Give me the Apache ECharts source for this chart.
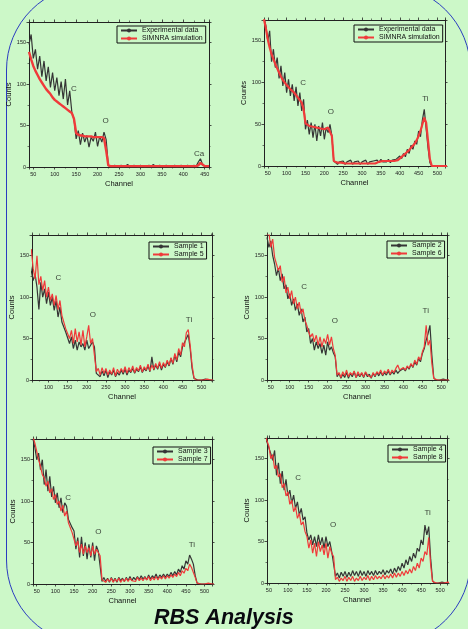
<!DOCTYPE html>
<html>
<head>
<meta charset="utf-8">
<script src="https://cdn.jsdelivr.net/npm/echarts@6/dist/echarts.min.js"></script>
<style>
html, body { margin: 0; padding: 0; background: #ccf8c8; }
#chart { width: 468px; height: 629px; }
</style>
</head>
<body>
<div id="chart"></div>
<script>
// channel grid shared by every spectrum (step 5)
const CH = [40,45,50,55,60,65,70,75,80,85, 90,95,100,105,110,115,120,125,130,135,
  140,145,150,155,160,165,170,175,180,185, 190,195,200,205,210,215,220,225,230,235,
  240,245,250,255,260,265,270,275,280,285, 290,295,300,305,310,315,320,325,330,335,
  340,345,350,355,360,365,370,375,380,385, 390,395,400,405,410,415,420,425,430,435,
  440,445,450,455,460,465,470,475,480,485, 490,495,500,505,510,515,520,525,530];

// panel 1 : Experimental data / SIMNRA simulation (to channel 460)
const EXP1 = [148,160,131,142,118,134,109,128,104,121, 96,114,92,108,86,103,82,106,75,92,
  66,58,34,44,27,41,30,38,24,36, 31,42,25,37,30,42,33,2,1,0,
  2,0,1,2,0,1,3,1,0,2, 1,0,2,1,0,1,2,0,3,1,
  0,2,1,0,2,1,0,1,2,0, 1,2,0,1,2,1,0,2,1,6,
  10,3,1,0,1];
const SIM1 = [139,130,122,116,111,106,102,98,94,91, 88,84,81,79,77,75,73,71,69,67,
  65,58,41,39,38,38,37,37,37,37, 36,36,36,36,36,35,20,2,1,1,
  1,1,1,1,1,1,1,1,1,1, 1,1,1,1,1,1,1,1,1,1,
  1,1,1,1,1,1,1,1,1,1, 1,1,1,1,1,1,1,1,1,2,
  5,3,1,1,1];

// panel 2
const EXP2 = [178,168,150,162,125,140,118,130,105,120, 96,112,88,104,84,98,78,95,72,88,
  66,80,44,55,38,52,34,50,30,48, 36,52,32,46,40,50,36,6,4,2,
  5,3,6,2,5,3,7,2,5,3, 6,2,5,3,7,2,5,3,6,4,
  7,4,8,5,7,5,8,4,7,5, 8,6,12,9,15,11,20,15,25,20,
  30,26,42,35,55,68,45,22,4,0, 0,0,1,0,0,0,0,0,0];
const SIM2 = [176,165,152,142,134,128,122,117,112,107, 103,100,97,95,92,90,88,85,82,79,
  76,68,51,49,48,48,47,47,46,45, 45,44,44,44,46,48,36,6,4,4,
  4,4,4,3,3,3,3,3,3,3, 3,3,3,3,3,3,3,3,3,3,
  4,5,6,6,6,6,6,6,6,6, 6,7,8,11,13,15,17,19,22,24,
  27,31,36,42,50,58,52,30,8,0, 0,0,0,0,0,0,0,0,0];

// panel 3 : Sample 1 / Sample 5
const S1 = [150,140,145,132,120,128,112,85,118,100, 110,92,106,90,100,84,96,76,88,70,
  72,58,56,44,52,38,48,36,46,40, 44,36,48,38,42,46,40,8,10,4,
  11,5,12,3,10,6,12,4,9,6, 12,7,13,6,12,9,14,8,13,10,
  16,9,14,11,17,10,28,12,18,13, 20,12,19,15,22,17,26,19,30,22,
  34,28,40,38,50,55,38,14,2,0, 0,0,0,0,1,0,0,0,0];
const S5 = [165,160,150,158,135,122,150,115,125,108, 120,100,112,96,104,90,102,85,96,78,
  80,62,64,50,60,44,62,46,58,42, 60,40,52,66,44,50,30,10,14,6,
  15,8,14,6,12,7,15,5,13,8, 14,9,16,8,15,10,17,9,15,11,
  18,10,16,12,19,11,18,13,20,14, 22,14,21,16,24,18,27,20,32,24,
  38,30,45,40,57,61,42,18,3,0, 0,0,1,0,0,1,0,0,0];

// panel 4 : Sample 2 / Sample 6
const S2 = [172,160,168,150,140,126,135,120,128,110, 115,98,104,90,98,84,92,78,86,70,
  76,58,62,44,50,36,46,38,44,32, 42,30,46,36,40,33,28,4,8,2,
  7,3,9,2,8,4,10,3,7,4, 8,3,9,4,7,2,8,4,9,5,
  10,5,9,6,11,6,10,7,12,8, 11,9,14,11,16,13,19,15,22,18,
  26,22,32,38,48,56,66,30,3,0, 0,0,0,1,0,0,0,0,0];
const S6 = [175,178,160,170,148,140,132,138,118,125, 105,112,98,108,92,100,86,94,80,86,
  72,66,58,52,56,46,54,42,52,40, 50,44,55,42,52,38,30,6,9,3,
  10,5,12,4,9,6,11,3,10,5, 9,4,10,6,8,3,9,5,10,7,
  12,6,11,8,13,7,12,9,14,18, 12,10,15,12,17,14,20,16,24,19,
  28,24,34,40,66,42,48,20,2,0, 0,1,0,0,0,1,0,0,0];

// panel 5 : Sample 3 / Sample 7
const S3 = [175,165,150,158,138,150,120,138,112,130, 105,118,98,110,92,104,86,98,94,78,
  80,68,64,42,56,32,57,34,50,30, 48,32,50,28,46,40,42,3,8,3,
  7,2,8,3,7,2,8,4,7,3, 8,4,9,4,8,5,9,5,10,6,
  9,5,11,6,10,7,12,6,11,8, 12,8,12,9,14,10,15,11,18,14,
  22,18,28,24,35,30,24,10,1,0, 0,0,0,0,0,1,0,0,0];
const S7 = [178,170,160,150,142,132,128,118,124,110, 115,102,108,96,100,88,95,82,88,74,
  74,62,60,46,52,38,48,36,46,38, 44,34,46,36,42,38,34,5,7,2,
  6,3,7,2,6,3,7,2,6,3, 7,3,7,4,6,3,8,4,7,4,
  8,5,9,4,8,5,9,5,9,6, 10,6,10,7,11,8,12,9,14,10,
  16,13,19,16,24,20,18,8,1,0, 0,0,0,0,1,0,0,0,0];

// panel 6 : Sample 4 / Sample 8
const S4 = [175,170,172,156,148,160,130,145,120,135, 112,125,105,112,96,106,90,98,82,90,
  76,80,60,52,58,46,56,44,58,46, 55,42,56,44,50,38,36,8,12,6,
  13,8,14,7,13,8,15,9,14,8, 15,9,14,8,15,10,14,9,15,10,
  14,11,16,10,15,12,17,11,18,13, 20,15,24,18,28,22,32,26,36,30,
  42,38,52,46,70,58,68,30,3,0, 0,0,0,1,0,0,0,0,0];
const S8 = [178,176,165,150,155,138,142,128,132,115, 120,105,110,95,100,86,92,78,84,70,
  74,62,56,42,52,36,48,32,50,38, 46,34,48,30,44,36,32,4,7,2,
  6,3,8,2,7,3,8,2,6,3, 8,3,7,4,9,3,8,4,9,5,
  8,5,10,5,9,6,11,6,12,7, 12,8,14,9,15,11,17,12,20,15,
  24,18,30,26,38,34,55,22,2,0, 0,1,0,0,0,0,1,0,0];

// peak annotations: [text, channel, counts]
const PEAKS1 = [['C', 145, 94], ['O', 219, 56], ['Ca', 437, 16]];
const PEAKS2 = [['C', 144, 100], ['O', 217, 65], ['Ti', 468, 81]];
const PEAKS3 = [['C', 126, 123], ['O', 216, 79], ['Ti', 467, 73]];
const PEAKS4 = [['C', 138, 112], ['O', 219, 72], ['Ti', 459, 84]];
const PEAKS5 = [['C', 134, 104], ['O', 215, 63], ['Ti', 466, 47]];
const PEAKS6 = [['C', 127, 127], ['O', 219, 70], ['Ti', 467, 85]];

const FONT = 'Liberation Sans, Arial, sans-serif';
const BLACK = '#353535';
const RED = '#f03a3a';

const panels = [
  { grid: {left: 29, top: 22, width: 180, height: 145}, xr: [40, 460],
    names: ['Experimental data', 'SIMNRA simulation'], data: [EXP1, SIM1], widths: [1.2, 2.4],
    legend: {left: 117, top: 26}, peaks: PEAKS1 },
  { grid: {left: 264, top: 20, width: 181, height: 146}, xr: [40, 520],
    names: ['Experimental data', 'SIMNRA simulation'], data: [EXP2, SIM2], widths: [1.2, 2.2],
    legend: {left: 354, top: 25}, peaks: PEAKS2 },
  { grid: {left: 32, top: 235, width: 180, height: 145}, xr: [57, 527],
    names: ['Sample 1', 'Sample 5'], data: [S1, S5], widths: [1.2, 1.2],
    legend: {left: 149, top: 242}, peaks: PEAKS3 },
  { grid: {left: 267, top: 235, width: 180, height: 145}, xr: [40, 515],
    names: ['Sample 2', 'Sample 6'], data: [S2, S6], widths: [1.2, 1.2],
    legend: {left: 387, top: 241}, peaks: PEAKS4 },
  { grid: {left: 33, top: 439, width: 179, height: 145}, xr: [40, 520],
    names: ['Sample 3', 'Sample 7'], data: [S3, S7], widths: [1.2, 1.2],
    legend: {left: 153, top: 447}, peaks: PEAKS5 },
  { grid: {left: 267, top: 438, width: 180, height: 145}, xr: [45, 518],
    names: ['Sample 4', 'Sample 8'], data: [S4, S8], widths: [1.2, 1.2],
    legend: {left: 388, top: 445}, peaks: PEAKS6 }
];

function pairs(vals) {
  return vals.map((v, i) => [CH[i], v]);
}

const frameLine = { show: true, onZero: false, lineStyle: { color: '#222', width: 1 } };
const tick = { show: true, inside: false, length: 2.5, lineStyle: { color: '#222', width: 0.8 } };
const minor = { show: true, splitNumber: 2, length: 1.5, lineStyle: { color: '#222', width: 0.6 } };

const grids = [], xAxes = [], yAxes = [], legends = [], series = [];

panels.forEach((p, k) => {
  grids.push(Object.assign({ containLabel: false }, p.grid));
  const xBase = {
    gridIndex: k, type: 'value', min: p.xr[0], max: p.xr[1],
    minInterval: 50, maxInterval: 50,
    axisLine: frameLine, axisTick: tick, minorTick: minor,
    splitLine: { show: false }
  };
  xAxes.push(Object.assign({}, xBase, {
    position: 'bottom', name: 'Channel', nameLocation: 'middle', nameGap: 13,
    nameTextStyle: { fontFamily: FONT, fontSize: 7.5, color: '#111' },
    axisLabel: { fontFamily: FONT, fontSize: 5.5, color: '#222', margin: 4,
      showMinLabel: false, showMaxLabel: false }
  }));
  xAxes.push(Object.assign({}, xBase, { position: 'top', axisLabel: { show: false } }));

  const yBase = {
    gridIndex: k, type: 'value', min: 0, max: 175, interval: 50,
    axisLine: frameLine, axisTick: tick, minorTick: minor,
    splitLine: { show: false }
  };
  yAxes.push(Object.assign({}, yBase, {
    position: 'left', name: 'Counts', nameLocation: 'middle', nameGap: 15,
    nameTextStyle: { fontFamily: FONT, fontSize: 7.5, color: '#111' },
    axisLabel: { fontFamily: FONT, fontSize: 5.5, color: '#222', margin: 3,
      showMaxLabel: false }
  }));
  yAxes.push(Object.assign({}, yBase, { position: 'right', axisLabel: { show: false } }));

  legends.push({
    left: p.legend.left, top: p.legend.top, orient: 'vertical',
    data: p.names, itemWidth: 16, itemHeight: 5, itemGap: 1,
    padding: [1, 3, 1, 3], borderColor: '#111', borderWidth: 1,
    backgroundColor: 'transparent',
    textStyle: { fontFamily: FONT, fontSize: 7, color: '#111' }
  });

  [BLACK, RED].forEach((c, j) => {
    series.push({
      name: p.names[j], type: 'line', xAxisIndex: 2 * k, yAxisIndex: 2 * k,
      data: pairs(p.data[j]), symbol: 'circle', symbolSize: 2, showSymbol: false,
      lineStyle: { color: c, width: p.widths[j] }, itemStyle: { color: c },
      clip: true, z: 2 + j
    });
  });

  series.push({
    type: 'scatter', xAxisIndex: 2 * k, yAxisIndex: 2 * k, symbolSize: 1,
    itemStyle: { color: 'rgba(0,0,0,0)' }, silent: true, z: 5,
    data: p.peaks.map(a => ({ name: a[0], value: [a[1], a[2]] })),
    label: { show: true, position: 'inside', formatter: '{b}',
      fontFamily: FONT, fontSize: 8, color: '#111' }
  });
});

const chart = echarts.init(document.getElementById('chart'));
chart.setOption({
  backgroundColor: '#ccf8c8',
  animation: false,
  grid: grids,
  xAxis: xAxes,
  yAxis: yAxes,
  legend: legends,
  series: series,
  graphic: [
    { type: 'rect', silent: true, z: 0,
      shape: { x: 6.5, y: -15, width: 464, height: 660, r: 85 },
      style: { fill: 'none', stroke: '#2a3cc0', lineWidth: 1 } },
    { type: 'text', left: 154, top: 607, z: 10,
      style: { text: 'RBS Analysis', fontFamily: FONT, fontSize: 21.5,
        fontWeight: 'bold', fontStyle: 'italic', fill: '#0a0a10' } }
  ]
});
</script>
</body>
</html>
